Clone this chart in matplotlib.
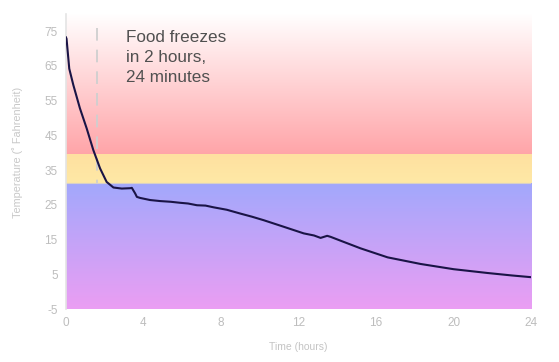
import numpy as np
import matplotlib.pyplot as plt
from matplotlib.colors import to_rgb

hours = [0.0, 0.03, 0.17, 0.38, 0.72, 1.07, 1.41, 1.76, 2.1, 2.45, 2.88, 3.31, 3.4,
         3.57, 3.66, 3.83, 4.34, 4.86, 5.4, 5.9, 6.3, 6.76, 7.2, 7.62, 8.3, 9.0, 9.6,
         10.2, 11.24, 12.27, 12.8, 13.14, 13.48, 13.66, 14.17, 15.2, 16.6, 18.3, 20.0,
         21.76, 23.0, 24.0]
temps = [73.2, 72.8, 64.2, 59.5, 52.8, 47.0, 40.8, 35.5, 31.6, 30.0, 29.7, 29.8, 29.9,
         28.3, 27.3, 27.0, 26.4, 26.1, 25.9, 25.6, 25.4, 24.9, 24.8, 24.3, 23.6, 22.5, 21.6,
         20.6, 18.7, 16.8, 16.2, 15.5, 16.1, 15.8, 14.7, 12.5, 9.9, 8.0, 6.5,
         5.4, 4.7, 4.2]

freeze_line_x = 1.6
note = "Food freezes\nin 2 hours,\n24 minutes"

x_ticks = [0, 4, 8, 12, 16, 20, 24]
y_ticks = [-5, 5, 15, 25, 35, 45, 55, 65, 75]

plt.rcParams['font.family'] = ['Liberation Sans', 'DejaVu Sans']
plt.rcParams['axes.unicode_minus'] = False

fig = plt.figure(figsize=(5.59, 3.62), dpi=100)
ax = fig.add_axes([0.118, 0.146, 0.832, 0.816])


def band(ax, y0, y1, c_bottom, c_top):
    cb = np.array(to_rgb(c_bottom))
    ct = np.array(to_rgb(c_top))
    f = np.linspace(0, 1, 256)[:, None]
    img = (cb * (1 - f) + ct * f)[:, None, :]
    ax.imshow(img, extent=[0, 24, y0, y1], origin='lower', aspect='auto', zorder=0)


band(ax, 39.3, 80, '#ffa4a8', '#ffffff')
band(ax, 31.2, 39.3, '#fee9a6', '#ffe0a0')
band(ax, -5, 31.2, '#eb9ef3', '#a2a8fc')
ax.axhline(31.2, color='#d8d0c8', lw=0.8, zorder=1)

ax.plot([freeze_line_x, freeze_line_x], [76, 31.3], color='#cfcfcf', lw=1.3,
        dashes=(7, 5), zorder=2)
ax.plot(hours, temps, color='#1a1446', lw=1.5, zorder=3)

ax.text(3.1, 75.4, note, fontsize=12.3, color='#505050', va='top', ha='left',
        linespacing=1.42)

ax.set_xlim(0, 24)
ax.set_ylim(-5, 80)
ax.set_xticks(x_ticks)
ax.set_yticks(y_ticks)
ax.tick_params(length=0, colors='#bdbdbd', labelsize=8.5, pad=6)
for s in ['top', 'right', 'bottom']:
    ax.spines[s].set_visible(False)
ax.spines['left'].set_color('#e4e4e4')
ax.spines['left'].set_linewidth(1.2)

ax.set_xlabel('Time (hours)', color='#c4c4c4', fontsize=7.5, labelpad=9)
ax.set_ylabel('Temperature (˚ Fahrenheit)', color='#c8c8c8', fontsize=7.8)
ax.yaxis.set_label_coords(-0.092, 0.53)

fig.savefig('out.png', dpi=100)
